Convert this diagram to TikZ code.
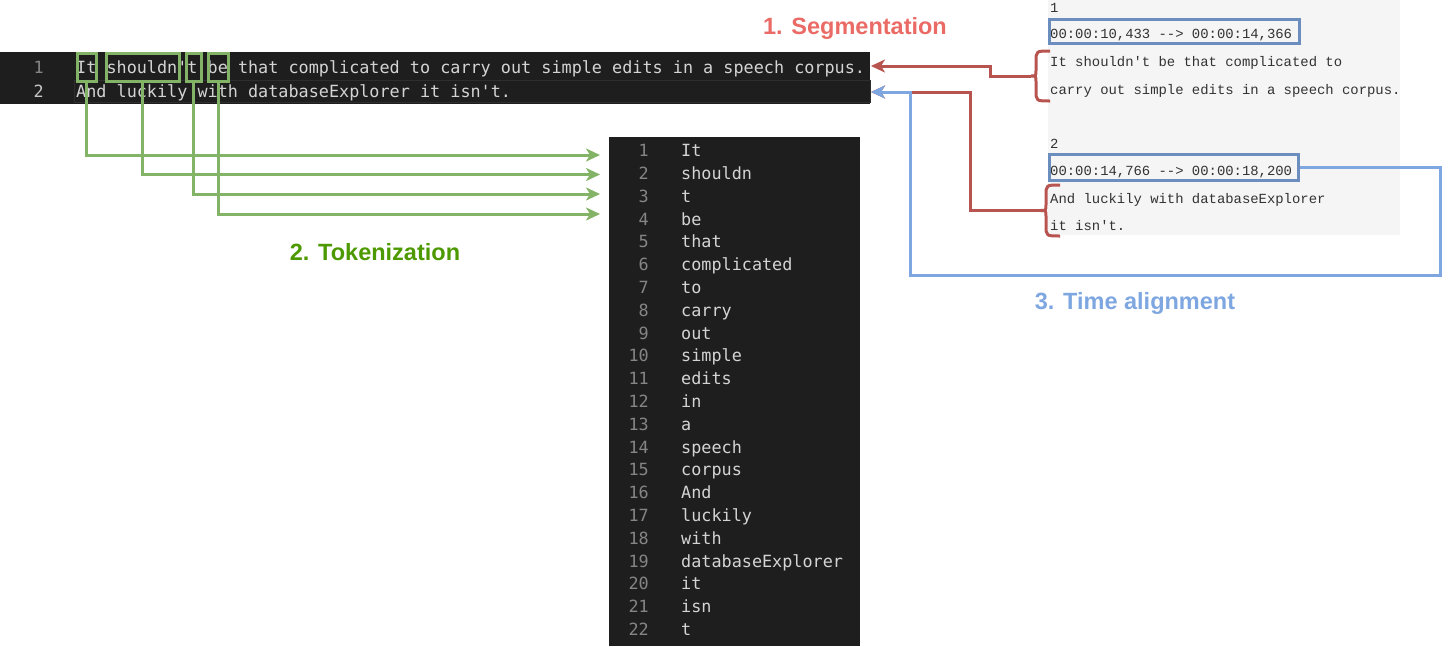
\documentclass[tikz,border=0pt]{standalone}
\usepackage{fontspec}
\setmainfont{Liberation Sans}
\newfontfamily\codefont{DejaVu Sans Mono}[Ligatures=TeXOff]
\newfontfamily\srtfont{Liberation Mono}[Ligatures=TeXOff]
\usetikzlibrary{arrows.meta}

\definecolor{editorbg}{HTML}{1E1E1E}
\definecolor{curline}{HTML}{2E2E2E}
\definecolor{codetext}{HTML}{D4D4D4}
\definecolor{lnumgrey}{HTML}{858585}
\definecolor{lnumact}{HTML}{C6C6C6}
\definecolor{srtbg}{HTML}{F5F5F5}
\definecolor{srttext}{HTML}{333333}
\definecolor{tokgreen}{HTML}{82B366}
\definecolor{toklabel}{HTML}{4D9900}
\definecolor{segred}{HTML}{B85450}
\definecolor{seglabel}{HTML}{EA6B66}
\definecolor{tsblue}{HTML}{6C8EBF}
\definecolor{alignblue}{HTML}{7EA6E0}

\begin{document}
\begin{tikzpicture}[x=1pt, y=-1pt,
  code/.style={inner sep=0pt, anchor=base west, text=codetext, font=\codefont\fontsize{16.8}{20}\selectfont},
  lnum/.style={inner sep=0pt, anchor=base east, text=lnumgrey, font=\codefont\fontsize{16.8}{20}\selectfont},
  srt/.style={inner sep=0pt, anchor=base west, text=srttext, font=\srtfont\fontsize{13.9}{16}\selectfont},
  wordbox/.style={draw=tokgreen, line width=3pt, minimum height=28pt, inner sep=0pt},
  tsbox/.style={draw=tsblue, line width=3pt, inner sep=0pt},
  steplabel/.style={inner sep=0pt, anchor=base, font=\bfseries\fontsize{23.5}{28}\selectfont},
  tip/.style={-{Stealth[length=14pt, width=13pt, inset=4pt]}},
  tokline/.style={tip, draw=tokgreen, line width=3pt},
  segline/.style={tip, draw=segred, line width=3pt},
  alignline/.style={tip, draw=alignblue, line width=3pt},
  segbrace/.style={draw=segred, line width=3pt}
]
\useasboundingbox (0,0) rectangle (1450,646);

% editor with the two lines
\fill[editorbg] (0,52) rectangle (870,104);
\draw[curline, line width=1pt] (74,80) rectangle (870,102);
\node[lnum] (ln1) at (44,73.5) {1};
\node[lnum, text=lnumact] (ln2) at (44,97.5) {2};
\node[code] (line1) at (76,73.5) {It shouldn't be that complicated to carry out simple edits in a speech corpus.};
\node[code] (line2) at (76,97.5) {And luckily with databaseExplorer it isn't.};
\coordinate (e1) at (871,66);
\coordinate (e2) at (871,92);

% token boxes
\node[wordbox, minimum width=19pt] (bIt) at (86.5,67) {};
\node[wordbox, minimum width=73pt] (bshouldn) at (142.5,67) {};
\node[wordbox, minimum width=15pt] (bt) at (193.5,67) {};
\node[wordbox, minimum width=20pt] (bbe) at (218,67) {};

% token list
\fill[editorbg] (609,137) rectangle (860,646);
\foreach \w [count=\i] in {It,shouldn,t,be,that,complicated,to,carry,out,simple,edits,in,a,speech,corpus,And,luckily,with,databaseExplorer,it,isn,t} {
  \node[lnum] (n\i) at (649,{156.7+(\i-1)*22.8}) {\i};
  \node[code] (w\i) at (681,{156.7+(\i-1)*22.8}) {\w};
}
\coordinate (in1) at (600,155);
\coordinate (in2) at (600,174.5);
\coordinate (in3) at (600,194);
\coordinate (in4) at (600,214);

\draw[tokline] (bIt.south) |- (in1);
\draw[tokline] (bshouldn.south) |- (in2);
\draw[tokline] (bt.south) |- (in3);
\draw[tokline] (bbe.south) |- (in4);

% srt file
\fill[srtbg] (1048,0) rectangle (1400,235);
\node[srt] (s1) at (1050,12) {1};
\node[srt] (s1t) at (1050,38) {00:00:10,433 --> 00:00:14,366};
\node[srt] (s1a) at (1050,66.7) {It shouldn't be that complicated to};
\node[srt] (s1b) at (1050,94) {carry out simple edits in a speech corpus.};
\node[srt] (s2) at (1050,148.3) {2};
\node[srt] (s2t) at (1050,175.7) {00:00:14,766 --> 00:00:18,200};
\node[srt] (s2a) at (1050,203.3) {And luckily with databaseExplorer};
\node[srt] (s2b) at (1050,230) {it isn't.};
\node[tsbox, minimum width=250pt, minimum height=24pt] (ts1) at (1174.5,31) {};
\node[tsbox, minimum width=249pt, minimum height=26pt] (ts2) at (1174,167.5) {};

% braces
\draw[segbrace] (1050,51) .. controls (1036,51) .. (1036,62) -- (1036,70)
  .. controls (1036,76) .. (1031,76) .. controls (1036,76) .. (1036,82)
  -- (1036,90) .. controls (1036,101) .. (1050,101);
\coordinate (br1) at (1031,76);
\draw[segbrace] (1060,185) .. controls (1046,185) .. (1046,196) -- (1046,204.5)
  .. controls (1046,210.5) .. (1041,210.5) .. controls (1046,210.5) .. (1046,216.5)
  -- (1046,225) .. controls (1046,236) .. (1060,236);
\coordinate (br2) at (1041,210.5);

% connectors
\draw[segline] (br1) -- (990,76) |- (e1);
\draw[segline] (br2) -- (970,210.5) |- (e2);
\draw[alignline] (ts2.east) -- (1440,167.5) |- (910,275) |- (e2);

% labels
\node[steplabel, text=seglabel] (seg) at (855,34) {1. Segmentation};
\node[steplabel, text=toklabel] (tok) at (375,260) {2. Tokenization};
\node[steplabel, text=alignblue] (tal) at (1135,309) {3. Time alignment};
\end{tikzpicture}
\end{document}
